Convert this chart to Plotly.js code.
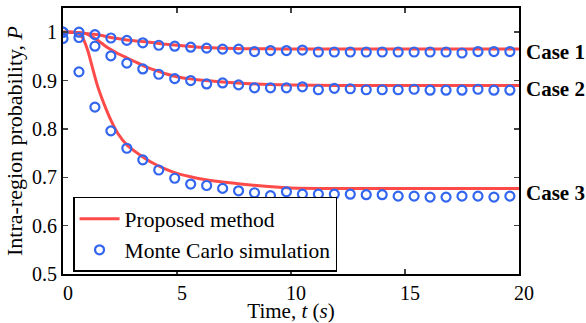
<!DOCTYPE html>
<html>
<head>
<meta charset="utf-8">
<script src="https://cdn.plot.ly/plotly-3.0.1.min.js"></script>
<style>html,body{margin:0;padding:0;background:#fff;}#chart{width:586px;height:323px;}</style>
</head>
<body>
<div id="chart"></div>
<script>
// Proposed method (analytical curves)
var tLine = [0,0.4,0.7,0.9,1.1,1.3,1.5,1.7,1.9,2.1,2.4,2.8,3.2,3.6,4.0,4.5,5,5.5,6,7,8,9,10,12,15,20];
var case1Line = [1.0,1.0,0.999,0.998,0.997,0.996,0.995,0.993,0.991,0.989,0.987,0.984,0.982,0.980,0.978,0.975,0.973,0.971,0.969,0.967,0.966,0.9655,0.965,0.965,0.965,0.965];
var case2Line = [1.0,1.0,0.999,0.998,0.995,0.990,0.984,0.977,0.970,0.964,0.956,0.947,0.938,0.929,0.922,0.914,0.908,0.904,0.901,0.897,0.894,0.892,0.891,0.890,0.890,0.890];
var case3Line = [1.0,1.0,0.997,0.985,0.960,0.925,0.891,0.864,0.840,0.818,0.791,0.767,0.752,0.739,0.728,0.717,0.708,0.702,0.697,0.690,0.685,0.681,0.678,0.677,0.677,0.677];

// Monte Carlo simulation samples
var tMC = [0,0.7,1.4,2.1,2.8,3.5,4.2,4.9,5.6,6.3,7.0,7.7,8.4,9.1,9.8,10.5,11.2,11.9,12.6,13.3,14.0,14.7,15.4,16.1,16.8,17.5,18.2,18.9,19.6];
var case1MC = [1.0,1.0,0.995,0.988,0.983,0.978,0.973,0.971,0.969,0.967,0.965,0.965,0.960,0.962,0.962,0.963,0.959,0.959,0.959,0.959,0.959,0.959,0.959,0.959,0.959,0.957,0.960,0.960,0.960];
var case2MC = [1.0,0.989,0.971,0.951,0.936,0.924,0.913,0.904,0.900,0.893,0.895,0.891,0.885,0.885,0.885,0.887,0.881,0.884,0.883,0.881,0.881,0.881,0.882,0.880,0.880,0.880,0.882,0.880,0.880];
var case3MC = [0.987,0.918,0.845,0.796,0.760,0.736,0.715,0.698,0.686,0.683,0.677,0.672,0.668,0.662,0.670,0.665,0.665,0.665,0.665,0.664,0.664,0.661,0.661,0.659,0.659,0.661,0.661,0.659,0.661];

var yTicks = [0.5,0.6,0.7,0.8,0.9,1.0];
var yTickText = ['0.5','0.6','0.7','0.8','0.9','1'];
var xTicks = [0,5,10,15,20];
var caseLabels = ['Case 1','Case 2','Case 3'];
var caseLabelY = [0.958,0.883,0.668];

var RED = '#ff4a4a';
var BLUE = '#3366ee';
var FONT = '"Liberation Serif", "Times New Roman", Times, serif';

var lines = [case1Line, case2Line, case3Line];
var mcs = [case1MC, case2MC, case3MC];
var traces = [];
lines.forEach(function(y, i){
  traces.push({x: tLine, y: y, type: 'scatter', mode: 'lines',
    line: {color: RED, width: 3, shape: 'spline', smoothing: 0.5},
    name: 'Proposed method', legendgroup: 'pm', showlegend: i === 0});
});
mcs.forEach(function(y, i){
  traces.push({x: tMC, y: y, type: 'scatter', mode: 'markers',
    marker: {symbol: 'circle-open', size: 9, color: BLUE, line: {width: 2.2, color: BLUE}},
    name: 'Monte Carlo simulation', legendgroup: 'mc', showlegend: i === 0});
});

var annotations = caseLabels.map(function(txt, i){
  return {text: '<b>' + txt + '</b>', xref: 'paper', yref: 'y', x: 1.01, y: caseLabelY[i],
    xanchor: 'left', yanchor: 'middle', showarrow: false,
    font: {family: FONT, size: 21, color: '#000'}};
});

var layout = {
  width: 586, height: 323,
  margin: {l: 63, r: 67, t: 8, b: 49},
  paper_bgcolor: '#fff', plot_bgcolor: '#fff',
  font: {family: FONT, size: 20, color: '#000'},
  showlegend: true,
  legend: {x: 0.022, y: 0.29, xanchor: 'left', yanchor: 'top',
    bordercolor: '#000', borderwidth: 1.5, bgcolor: '#fff',
    font: {family: FONT, size: 21.5, color: '#000'}, itemwidth: 40, tracegroupgap: 0},
  xaxis: {range: [0, 20], tickvals: xTicks, ticks: 'inside', ticklen: 5, tickwidth: 1.5,
    showline: true, linecolor: '#000', linewidth: 2, mirror: 'ticks', showgrid: false, zeroline: false,
    ticklabelshift: 5, tickfont: {family: FONT, size: 20},
    title: {text: 'Time, <i>t</i> (<i>s</i>)', font: {family: FONT, size: 21}, standoff: 5}},
  yaxis: {range: [0.5, 1.05], tickvals: yTicks, ticktext: yTickText, ticks: 'inside', ticklen: 5, tickwidth: 1.5,
    showline: true, linecolor: '#000', linewidth: 2, mirror: 'ticks', showgrid: false, zeroline: false,
    tickfont: {family: FONT, size: 20},
    title: {text: 'Intra-region probability, <i>P</i>', font: {family: FONT, size: 22}, standoff: 3}},
  annotations: annotations
};

Plotly.newPlot('chart', traces, layout, {displayModeBar: false, staticPlot: true});
</script>
</body>
</html>
